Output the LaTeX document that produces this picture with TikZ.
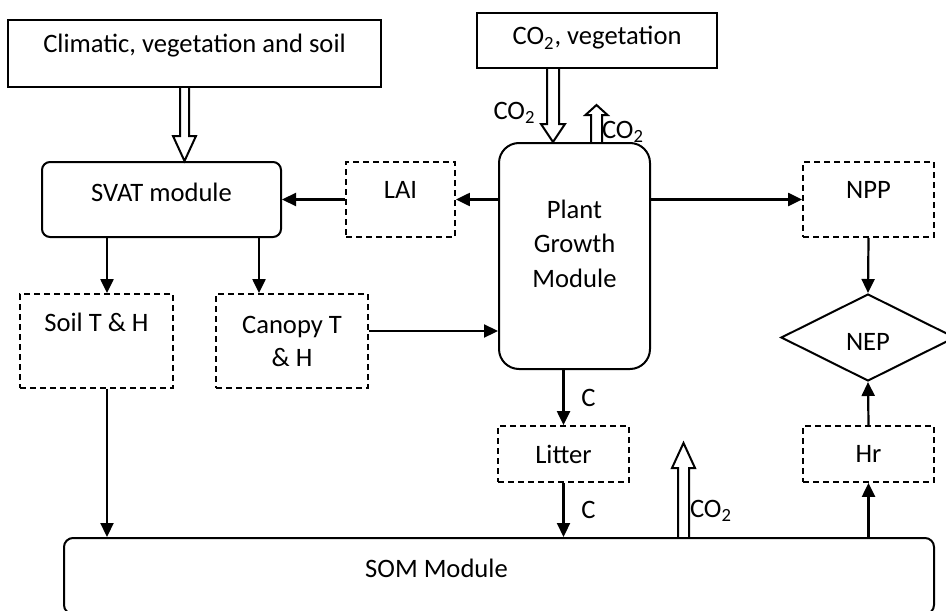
\documentclass[tikz,border=0pt]{standalone}
\usepackage{fontspec}
\setmainfont{Carlito}
\usetikzlibrary{arrows.meta,calc,shapes.geometric}

% open double-line arrow: start, end, half shaft, half head, head length
\newcommand{\hollowarrow}[5]{%
  \draw[line width=1pt,line join=miter] let \p1=(#1), \p2=(#2), \n1={\y2-sign(\y2-\y1)*#5} in
    ({\x1-#3},\y1) -- ({\x1-#3},{\n1*1pt}) -- ({\x1-#4},{\n1*1pt}) -- (\x1,\y2)
    -- ({\x1+#4},{\n1*1pt}) -- ({\x1+#3},{\n1*1pt}) -- ({\x1+#3},\y1);
}

\begin{document}
\begin{tikzpicture}[x=0.5pt,y=-0.5pt,
    every node/.style={font=\fontsize{13.3}{16.5}\selectfont},
    solidbox/.style={draw,line width=1pt},
    dashbox/.style={draw,line width=.9pt,dash pattern=on 3pt off 2pt},
    arr/.style={line width=1.1pt,-{Triangle[length=7pt,width=6.5pt]}}]
  \useasboundingbox (0,0) rectangle (946,610);

  % inputs
  \node[solidbox,minimum width=186.5pt,minimum height=33.5pt,text depth=10pt] (clim) at (194.5,53.5) {Climatic, vegetation and soil};
  \node[solidbox,minimum width=120pt,minimum height=27.5pt,text depth=5pt] (co2veg) at (597,40.5) {CO\textsubscript{2}, vegetation};

  % modules
  \node[solidbox,rounded corners=4pt,minimum width=119.5pt,minimum height=37.5pt,text depth=7.5pt] (svat) at (161.5,199.5) {SVAT module};
  \node[solidbox,rounded corners=10pt,minimum width=75.5pt,minimum height=113pt,align=center,
        font=\fontsize{13.3}{17.25}\selectfont,text depth=12.5pt] (plant) at (574.5,256) {Plant\\Growth\\Module};
  \node[solidbox,rounded corners=4.5pt,minimum width=435pt,minimum height=38pt,text depth=7.5pt] (som) at (499,576) {SOM Module\rule{62.5pt}{0pt}};

  % state variables
  \node[dashbox,minimum width=54.5pt,minimum height=37.5pt,text depth=9.5pt] (lai) at (400.5,199.5) {LAI};
  \node[dashbox,minimum width=65.5pt,minimum height=37.5pt,text depth=9.5pt] (npp) at (868.5,199.5) {NPP};
  \node[dashbox,minimum width=76.5pt,minimum height=47pt,text depth=19pt] (soil) at (96.5,341) {Soil T \& H};
  \node[dashbox,minimum width=76pt,minimum height=47pt,align=center] (canopy) at (292,341) {Canopy T\\\& H};
  \node[dashbox,minimum width=65.5pt,minimum height=28pt] (litter) at (563.5,454) {Litter};
  \node[dashbox,minimum width=65.5pt,minimum height=28pt] (hr) at (868.5,454) {Hr};
  \node[draw,diamond,aspect=2,line width=1pt,minimum width=87pt,minimum height=43.5pt,
        inner sep=1pt,text height=12.6pt] (nep) at (868,337.5) {NEP};

  % CO2 exchange
  \coordinate (co2up) at (596.5,105);
  \coordinate (co2som) at (683.5,443);
  \hollowarrow{$(clim.south)+(-10,0)$}{svat.north}{2.25pt}{5.75pt}{12.5pt}
  \hollowarrow{$(co2veg.south)+(-44,0)$}{plant.north}{3pt}{6pt}{9pt}
  \hollowarrow{$(plant.north)+(22,0)$}{co2up}{2.75pt}{5.5pt}{5pt}
  \hollowarrow{$(som.north)+(184.5,0)$}{co2som}{2.75pt}{5.75pt}{12.5pt}
  \node (co2in) at (514.5,113) {CO\textsubscript{2}};
  \node (co2out) at (623,132) {CO\textsubscript{2}};
  \node (co2resp) at (711,511) {CO\textsubscript{2}};

  % flows
  \draw[arr] (lai.east -| plant.west) -- (lai.east);
  \draw[arr] (lai.west) -- (svat.east);
  \draw[arr] (npp.west -| plant.east) -- (npp.west);
  \draw[arr] ([xshift=5.25pt]soil.north |- svat.south) -- ([xshift=5.25pt]soil.north);
  \draw[arr] ([xshift=-16.5pt]canopy.north |- svat.south) -- ([xshift=-16.5pt]canopy.north);
  \draw[arr] ([yshift=5pt]canopy.east) -- ([yshift=5pt]canopy.east -| plant.west);
  \draw[arr] ([xshift=5.25pt]soil.south) -- ([xshift=5.25pt]soil.south |- som.north);
  \draw[arr] (litter.north |- plant.south) -- (litter.north) node[midway,right=5pt] (c1) {C};
  \draw[arr] (litter.south) -- (litter.south |- som.north) node[midway,right=5pt] (c2) {C};
  \draw[arr] (npp.south) -- (nep.north);
  \draw[arr] (hr.north) -- (nep.south);
  \draw[arr] (hr.south |- som.north) -- (hr.south);
\end{tikzpicture}
\end{document}
